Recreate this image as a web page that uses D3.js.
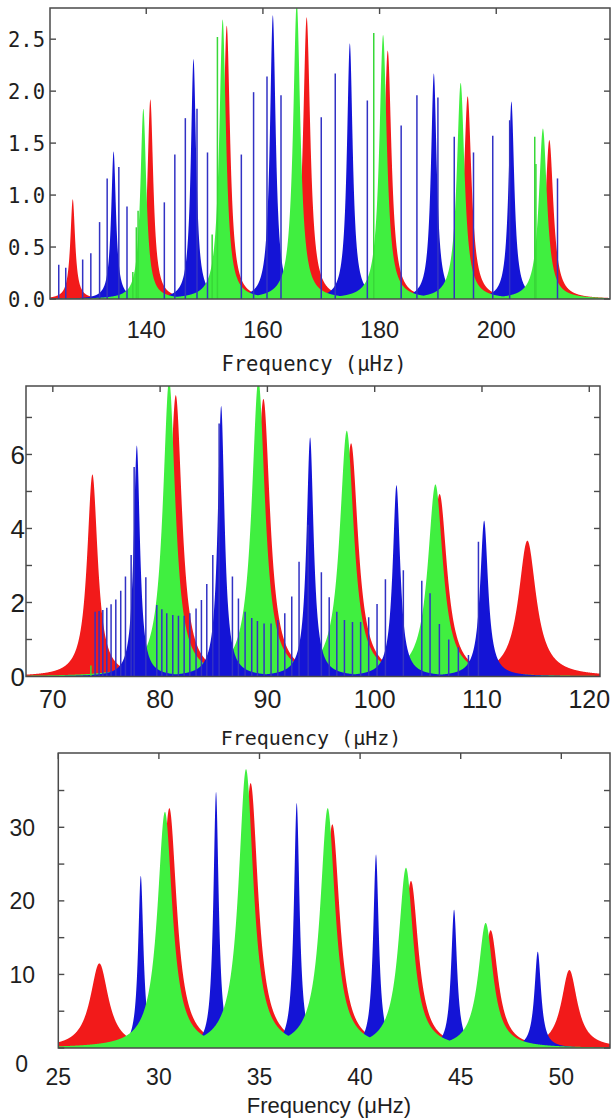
<!DOCTYPE html>
<html><head><meta charset="utf-8">
<script src="https://cdn.jsdelivr.net/npm/d3@7"></script>
<style>body{margin:0;background:#fff}svg{display:block}</style>
</head><body>
<svg id="c" width="611" height="1120"></svg>
<script>
// ---------------- Panel 1 (top) ----------------
const p1_l0_freq   = [127.4, 140.7, 153.8, 167.5, 181.4, 195.1, 209.1];
const p1_l0_height = [0.96, 1.92, 2.63, 2.71, 2.39, 1.95, 1.53];
const p1_l0_width  = [0.5, 0.62, 0.7, 0.75, 0.78, 0.8, 0.85];
const p1_l2_freq   = [139.5, 153.1, 165.8, 180.6, 193.9, 208.0];
const p1_l2_height = [1.83, 2.69, 2.85, 2.54, 2.08, 1.64];
const p1_l2_width  = [0.62, 0.7, 0.75, 0.78, 0.8, 0.85];
const p1_l1_freq   = [134.4, 148.1, 161.7, 174.9, 189.3, 202.6];
const p1_l1_height = [1.42, 2.31, 2.73, 2.46, 2.17, 1.90];
const p1_l1_width  = [0.5, 0.55, 0.6, 0.6, 0.6, 0.6];
const p1_l1_spike_freq   = [125.0, 126.2, 129.1, 130.5, 132.0, 133.3, 135.3, 136.7, 143.1, 144.9, 146.7, 148.7, 150.5, 156.3, 158.4, 160.7, 163.1, 170.0, 172.4, 177.9, 183.7, 186.4, 190.0, 192.8, 196.1, 199.4, 202.3, 210.5];
const p1_l1_spike_height = [0.33, 0.30, 0.38, 0.44, 0.74, 1.16, 1.27, 0.89, 0.93, 1.39, 1.74, 1.83, 1.41, 1.39, 1.99, 2.14, 1.96, 1.75, 2.17, 1.91, 1.67, 1.96, 1.94, 1.56, 1.41, 1.57, 1.72, 1.16];
const p1_l2_spike_freq   = [137.7, 138.3, 138.6, 151.3, 152.2, 179.0, 206.6, 206.8];
const p1_l2_spike_height = [0.26, 0.69, 0.85, 0.62, 2.52, 2.56, 1.56, 1.30];
const p1_xticks = [140, 160, 180, 200];
const p1_yticks = [0, 0.5, 1.0, 1.5, 2.0, 2.5];

// ---------------- Panel 2 (middle) ----------------
const p2_l0_freq   = [73.69, 81.46, 89.63, 97.80, 106.05, 114.23];
const p2_l0_height = [5.46, 7.6, 7.5, 6.30, 4.93, 3.67];
const p2_l0_width  = [0.6, 0.7, 0.75, 0.8, 0.85, 1.0];
const p2_l2_freq   = [80.84, 89.16, 97.40, 105.66];
const p2_l2_height = [8.0, 8.0, 6.64, 5.19];
const p2_l2_width  = [0.7, 0.75, 0.8, 0.85];
const p2_l1_freq   = [77.83, 85.69, 93.98, 102.03, 110.2];
const p2_l1_height = [6.24, 7.31, 6.46, 5.17, 4.21];
const p2_l1_width  = [0.35, 0.38, 0.4, 0.42, 0.45];
const p2_l1_spike_freq   = [73.94, 74.31, 74.66, 75.03, 75.43, 75.87, 76.33, 76.77, 77.30, 77.58, 78.67, 79.69, 80.16, 80.62, 81.18, 81.71, 82.24, 82.77, 83.35, 83.85, 84.35, 84.91, 85.50, 86.74, 87.30, 87.92, 88.54, 89.07, 89.69, 90.34, 90.97, 91.62, 92.27, 92.95, 93.80, 95.03, 95.76, 96.47, 97.18, 97.93, 98.69, 99.44, 100.22, 101.00, 102.67, 104.39, 105.16, 106.03, 106.90, 107.80, 108.74, 109.67];
const p2_l1_spike_height = [1.75, 1.77, 1.80, 1.86, 1.95, 2.08, 2.32, 2.70, 3.28, 5.66, 2.68, 1.93, 1.82, 1.71, 1.66, 1.64, 1.64, 1.71, 1.84, 2.07, 2.50, 3.28, 6.84, 2.70, 2.11, 1.75, 1.58, 1.50, 1.43, 1.43, 1.53, 1.71, 2.16, 3.10, 4.10, 2.82, 2.14, 1.75, 1.53, 1.47, 1.47, 1.60, 1.96, 2.63, 2.87, 2.59, 2.25, 1.42, 1.00, 0.79, 0.58, 3.64];
const p2_l2_spike_freq   = [73.55];
const p2_l2_spike_height = [0.3];
const p2_xticks = [70, 80, 90, 100, 110, 120];
const p2_yticks = [1, 2, 3, 4, 5, 6, 7];
const p2_ylabels = [0, 2, 4, 6];

// ---------------- Panel 3 (bottom) ----------------
const p3_l0_freq   = [27.04, 30.52, 34.56, 38.62, 42.53, 46.49, 50.40];
const p3_l0_height = [11.5, 32.6, 36.0, 30.4, 22.7, 16.0, 10.6];
const p3_l0_width  = [0.55, 0.45, 0.45, 0.45, 0.45, 0.45, 0.48];
const p3_l2_freq   = [30.30, 34.33, 38.39, 42.28, 46.24];
const p3_l2_height = [32.1, 37.9, 32.6, 24.5, 17.0];
const p3_l2_width  = [0.45, 0.45, 0.45, 0.45, 0.45];
const p3_l1_freq   = [29.10, 32.84, 36.85, 40.79, 44.67, 48.83];
const p3_l1_height = [23.4, 34.8, 33.3, 26.3, 18.8, 13.1];
const p3_l1_width  = [0.16, 0.16, 0.17, 0.17, 0.18, 0.2];
const p3_xticks = [25, 30, 35, 40, 45, 50];
const p3_yticks = [0, 5, 10, 15, 20, 25, 30, 35];
const p3_ylabels = [10, 20, 30];

const COL = {l0: "#f21a1a", l1: "#1414d6", l2: "#40ef40", spike1: "#3232c4", spike2: "#38d838"};
const svg = d3.select("#c");
const frameCol = "#4a4a4a";

function lor(f, f0, h, g) { const d = (f - f0) / g; return h / (1 + d * d); }
function profile(freqs, heights, widths, dom) {
  const n = 3000, step = (dom[1] - dom[0]) / n;
  const grid = d3.range(n + 1).map(i => dom[0] + i * step).concat(freqs).sort((a, b) => a - b);
  return grid.map(f => {
    let m = 0;
    for (let i = 0; i < freqs.length; i++) m = Math.max(m, lor(f, freqs[i], heights[i], widths[i]));
    return [f, m];
  });
}

const panels = [
  {key: "p1", box: {l: 50, r: 610, t: 8, b: 299}, xdom: [123.5, 219.5], ydom: [0, 2.8],
   series: {l0: [p1_l0_freq, p1_l0_height, p1_l0_width], l1: [p1_l1_freq, p1_l1_height, p1_l1_width], l2: [p1_l2_freq, p1_l2_height, p1_l2_width]},
   order: ["l0", "l1", "l2"],
   spikes: [[p1_l2_spike_freq, p1_l2_spike_height, COL.spike2], [p1_l1_spike_freq, p1_l1_spike_height, COL.spike1]],
   xticks: p1_xticks, yticks: p1_yticks},
  {key: "p2", box: {l: 26, r: 600, t: 386, b: 676.5}, xdom: [67.5, 121], ydom: [0, 7.85],
   series: {l0: [p2_l0_freq, p2_l0_height, p2_l0_width], l1: [p2_l1_freq, p2_l1_height, p2_l1_width], l2: [p2_l2_freq, p2_l2_height, p2_l2_width]},
   order: ["l0", "l2", "l1"],
   spikes: [[p2_l2_spike_freq, p2_l2_spike_height, COL.spike2], [p2_l1_spike_freq, p2_l1_spike_height, COL.spike1]],
   xticks: p2_xticks, yticks: p2_yticks},
  {key: "p3", box: {l: 58.3, r: 610, t: 753, b: 1048}, xdom: [25, 52.42], ydom: [0, 40.1],
   series: {l0: [p3_l0_freq, p3_l0_height, p3_l0_width], l1: [p3_l1_freq, p3_l1_height, p3_l1_width], l2: [p3_l2_freq, p3_l2_height, p3_l2_width]},
   order: ["l0", "l1", "l2"],
   spikes: [],
   xticks: p3_xticks, yticks: p3_yticks}
];

panels.forEach(p => {
  const x = d3.scaleLinear().domain(p.xdom).range([p.box.l, p.box.r]);
  const y = d3.scaleLinear().domain(p.ydom).range([p.box.b, p.box.t]);
  p.x = x; p.y = y;
  svg.append("clipPath").attr("id", "clip-" + p.key).append("rect")
    .attr("x", p.box.l).attr("y", p.box.t).attr("width", p.box.r - p.box.l).attr("height", p.box.b - p.box.t);
  const g = svg.append("g").attr("clip-path", `url(#clip-${p.key})`);
  const area = d3.area().x(d => x(d[0])).y0(y(0)).y1(d => y(d[1]));
  p.order.forEach(s => {
    const [f, h, w] = p.series[s];
    g.append("path").datum(profile(f, h, w, p.xdom)).attr("d", area).attr("fill", COL[s]);
  });
  p.spikes.forEach(([f, h, c]) => {
    g.selectAll(null).data(d3.zip(f, h)).enter().append("line")
      .attr("x1", d => x(d[0])).attr("x2", d => x(d[0]))
      .attr("y1", y(0)).attr("y2", d => y(d[1]))
      .attr("stroke", c).attr("stroke-width", 1.5);
  });
  svg.append("rect").attr("x", p.box.l).attr("y", p.box.t)
    .attr("width", p.box.r - p.box.l).attr("height", p.box.b - p.box.t)
    .attr("fill", "none").attr("stroke", frameCol).attr("stroke-width", 1.5);
  const tk = svg.append("g").attr("stroke", frameCol).attr("stroke-width", 1.4);
  p.xticks.forEach(v => {
    tk.append("line").attr("x1", x(v)).attr("x2", x(v)).attr("y1", p.box.t).attr("y2", p.box.t + 6);
  });
  p.yticks.forEach(v => {
    tk.append("line").attr("x1", p.box.l).attr("x2", p.box.l + 6).attr("y1", y(v)).attr("y2", y(v));
    tk.append("line").attr("x1", p.box.r - 6).attr("x2", p.box.r).attr("y1", y(v)).attr("y2", y(v));
  });
});

const txt = (x, y, s, font, size, anchor) => svg.append("text").attr("x", x).attr("y", y)
  .attr("font-family", font).attr("font-size", size).attr("text-anchor", anchor || "middle")
  .attr("fill", "#1e1e1e").text(s);
const MONO = "DejaVu Sans Mono", SANS = "Liberation Sans, Arial, sans-serif";

{
  const p = panels[0];
  p1_yticks.forEach(v => txt(45, p.y(v) + 7.5, d3.format(".1f")(v), MONO, 20.5, "end"));
  p1_xticks.forEach(v => txt(p.x(v), 338, v, SANS, 23.5));
  txt(314, 371, "Frequency (μHz)", MONO, 20.5);
}
{
  const p = panels[1];
  p2_ylabels.forEach(v => txt(25, p.y(v) + 9.5, v, SANS, 26, "end"));
  p2_xticks.forEach(v => txt(p.x(v), 708, v, SANS, 25));
  txt(311, 745, "Frequency (μHz)", MONO, 20);
}
{
  const p = panels[2];
  p3_ylabels.forEach(v => txt(35, p.y(v) + 8.5, v, SANS, 23, "end"));
  txt(28, 1072, "0", SANS, 23, "end");
  p3_xticks.forEach(v => txt(p.x(v), 1085, v, SANS, 23));
  txt(329, 1113, "Frequency (μHz)", SANS, 22);
}
</script>
</body></html>
